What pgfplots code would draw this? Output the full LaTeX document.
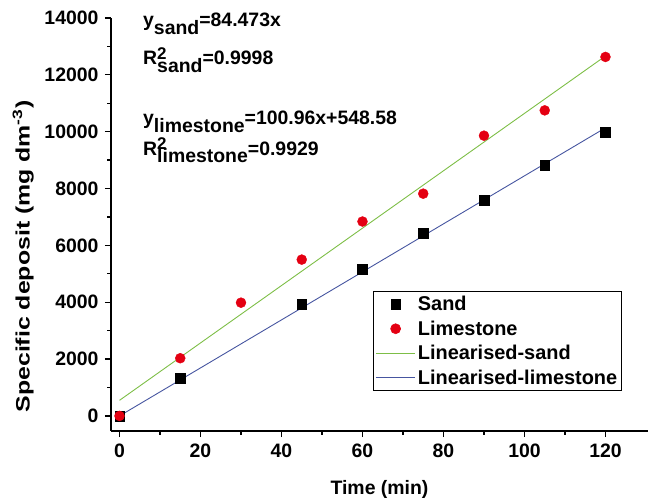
\documentclass[border=0pt]{standalone}
\usepackage{fontspec}
\setmainfont{Liberation Sans}
\usepackage{pgfplots}
\pgfplotsset{compat=1.18}

\definecolor{limered}{RGB}{228,0,18}
\definecolor{fitgreen}{RGB}{125,190,70}
\definecolor{fitblue}{RGB}{70,85,160}

% stacked superscript / subscript after a symbol
\newcommand{\stk}[2]{\rlap{\raisebox{0.28em}{\fontsize{17}{19}\selectfont #1}}\raisebox{-0.4em}{#2}}
\newcommand{\sub}[1]{\raisebox{-0.4em}{#1}}
\newcommand{\bigbf}{\fontsize{19.5}{22}\selectfont\bfseries}

\begin{document}
\begin{tikzpicture}
\begin{axis}[
  name=main, clip=false,
  scale only axis, width=537bp, height=413bp,
  xmin=-2.1, xmax=130.5, ymin=-530, ymax=14000,
  axis x line*=bottom, axis y line*=left,
  axis line style={line width=1.6pt, -},
  xtick={0,20,...,120}, minor x tick num=1,
  ytick={0,2000,...,14000}, minor y tick num=1,
  tick align=outside, major tick length=6bp, minor tick length=3.5bp,
  tick style={line width=1.3pt, black},
  scaled y ticks=false,
  /pgf/number format/assume math mode=true,
  /pgf/number format/set thousands separator={},
  tick label style={font=\bigbf},
  xticklabel style={yshift=-3pt},
  yticklabel style={xshift=-3pt},
  xlabel={Time (min)},
  ylabel={\scalebox{1.28}[1]{Specific deposit (mg dm\textsuperscript{-3})}},
  label style={font=\bigbf},
  xlabel style={yshift=-16pt},
  ylabel style={yshift=4pt, xshift=-32bp},
  legend style={at={(0.488,0.339)}, anchor=north west, draw=black, line width=0.6pt,
    font=\fontsize{20}{22}\selectfont\bfseries, row sep=4.6pt, inner xsep=2pt, inner ysep=3pt},
  legend cell align=left,
  legend image code/.code={\draw[mark repeat=2,mark phase=2,#1] plot coordinates {(0cm,0cm) (0.7cm,0cm) (1.4cm,0cm)};},
]
\addplot[only marks, mark=square*, mark size=4.8bp, black] coordinates {
  (0,0) (15,1330) (45,3930) (60,5160) (75,6420) (90,7600) (105,8830) (120,9990)};
\addlegendentry{Sand}
\addplot[only marks, mark=*, mark size=5bp, limered] coordinates {
  (0,0) (15,2030) (30,3985) (45,5500) (60,6840) (75,7820) (90,9860) (105,10750) (120,12630)};
\addlegendentry{Limestone}
\addplot[fitgreen, line width=0.9pt] coordinates {(0,548.58) (120,12663.78)};
\addlegendentry{Linearised-sand}
\addplot[fitblue, line width=0.9pt] coordinates {(0,0) (120,10136.76)};
\addlegendentry{Linearised-limestone}

\node[anchor=base west, font=\bigbf, inner sep=0pt] at (axis cs:5.8,13690) {y\sub{sand}=84.473x};
\node[anchor=base west, font=\bigbf, inner sep=0pt] at (axis cs:5.8,12350) {R\stk{2}{sand}=0.9998};
\node[anchor=base west, font=\bigbf, inner sep=0pt] at (axis cs:5.8,10240) {y\sub{limestone}=100.96x+548.58};
\node[anchor=base west, font=\bigbf, inner sep=0pt] at (axis cs:5.8,9180) {R\stk{2}{limestone}=0.9929};
\end{axis}
% page frame: 649 x 498 with the plot area placed inside it
\pgfresetboundingbox
\path (main.south west) ++(-111bp,-67bp) rectangle ++(649bp,498bp);
\end{tikzpicture}
\end{document}
